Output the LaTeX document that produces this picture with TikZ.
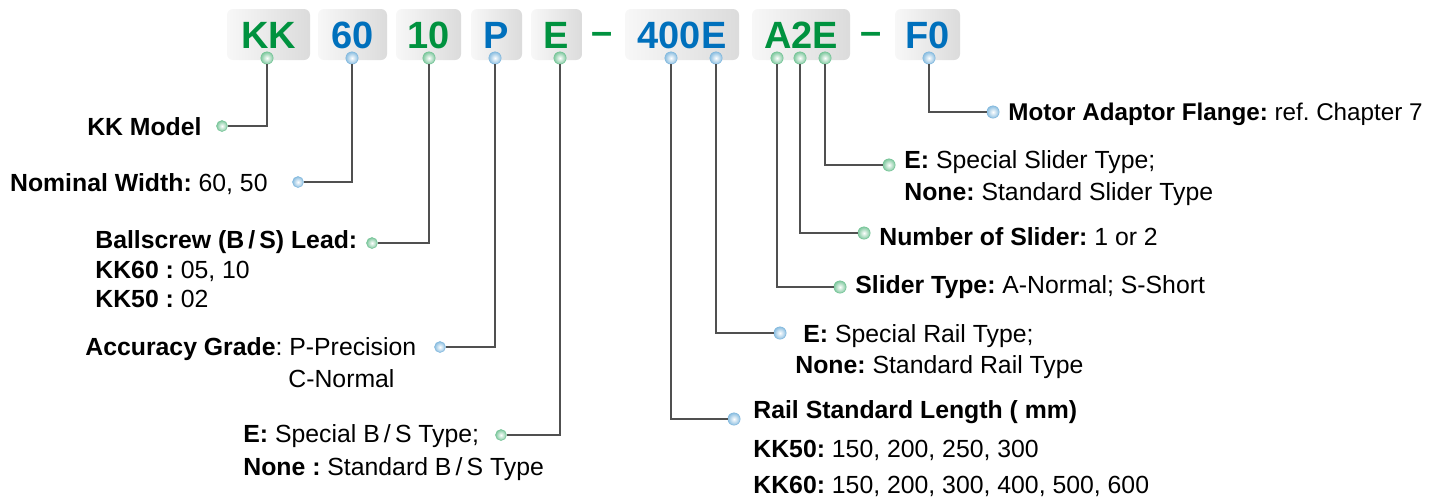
\documentclass[tikz,border=0pt]{standalone}
\usepackage{fontspec}
\setmainfont{Liberation Sans}
\usepackage{tikz}
\usepackage{xcolor}
\definecolor{kkgreen}{RGB}{0,146,63}
\definecolor{kkblue}{RGB}{0,112,188}
\definecolor{leadgray}{RGB}{80,80,80}
\frenchspacing

\begin{document}
\begin{tikzpicture}[x=0.5pt,y=-0.5pt,
  codebox/.style={rounded corners=3pt, left color=gray!6, right color=gray!28, minimum height=25.5pt, inner sep=0pt, text height=13.6pt, text depth=0pt, font=\fontsize{19}{22}\selectfont\bfseries},
  codedash/.style={inner sep=0pt, anchor=base, text=kkgreen, font=\fontsize{19}{22}\selectfont\bfseries},
  gdot/.style={circle, inner sep=0pt, minimum size=6.2pt, inner color=white, outer color=kkgreen!50, draw=kkgreen!55, line width=0.25pt},
  bdot/.style={circle, inner sep=0pt, minimum size=6.2pt, inner color=white, outer color=kkblue!45, draw=kkblue!50, line width=0.25pt},
  lbl/.style={inner sep=0pt, font=\fontsize{12.4}{15}\selectfont},
  lead/.style={draw=leadgray, line width=0.6pt}]
  \useasboundingbox (0,0) rectangle (1436,500);
  % code boxes
  \node[codebox, minimum width=41.5pt, text=kkgreen] (bKK) at (268.5,34.5) {KK};
  \node[codebox, minimum width=34.5pt, text=kkblue] (b60) at (352.5,34.5) {60};
  \node[codebox, minimum width=32.5pt, text=kkgreen] (b10) at (428.5,34.5) {10};
  \node[codebox, minimum width=25.5pt, text=kkblue] (bP) at (496.5,34.5) {P};
  \node[codebox, minimum width=25.5pt, text=kkgreen] (bE) at (556.5,34.5) {E};
  \node[codedash] (dash1) at (602.5,44) {--};
  \node[codebox, minimum width=57pt, text=kkblue] (b400E) at (682,34.5) {400E};
  \node[codebox, minimum width=49pt, text=kkgreen] (bA2E) at (801,34.5) {A2E};
  \node[codedash] (dash2) at (871,44) {--};
  \node[codebox, minimum width=32.5pt, text=kkblue] (bF0) at (927.5,34.5) {F0};
  % dots under the code letters
  \node[gdot] (dKK) at (267,58) {}; \node[bdot] (d60) at (352,58) {}; \node[gdot] (d10) at (429,58) {};
  \node[bdot] (dP) at (495,58) {}; \node[gdot] (dE) at (560,58) {};
  \node[bdot] (d400) at (671,58) {}; \node[bdot] (d400E) at (716,58) {};
  \node[gdot] (dA) at (777,58) {}; \node[gdot] (d2) at (800,58) {}; \node[gdot] (dA2E) at (825,58) {};
  \node[bdot] (dF0) at (929,58) {};
  % left side labels
  \node[gdot, minimum size=5.5pt] (eKK) at (222,126) {}; \node[lbl, anchor=base east] (tKK) at (202,135) {\textbf{KK Model}};
  \node[bdot, minimum size=5.5pt] (eNW) at (298,182) {}; \node[lbl, anchor=base east] (tNW) at (268,191) {\textbf{Nominal Width:} 60, 50};
  \node[gdot, minimum size=5.5pt] (eBS) at (372,243) {}; \node[lbl, anchor=base west] (tBS) at (95,248) {\textbf{Ballscrew (B\,/\,S) Lead:}};
  \node[lbl, anchor=base west] (tBS2) at (95,278) {\textbf{KK60 :} 05, 10}; \node[lbl, anchor=base west] (tBS3) at (95,307) {\textbf{KK50 :} 02};
  \node[bdot, minimum size=5.5pt] (eAG) at (440,347) {}; \node[lbl, anchor=base west] (tAG) at (85,355) {\textbf{Accuracy Grade}: P-Precision};
  \node[lbl, anchor=base west] (tAG2) at (288,387) {C-Normal};
  \node[gdot, minimum size=5.5pt] (eSB) at (501,435) {}; \node[lbl, anchor=base west] (tSB) at (243,442) {\textbf{E:} Special B\,/\,S Type;};
  \node[lbl, anchor=base west] (tSB2) at (243,475) {\textbf{None :} Standard B\,/\,S Type};
  % right side labels
  \node[bdot] (eRL) at (734,419) {}; \node[lbl, anchor=base west] (tRL) at (753,418) {\textbf{Rail Standard Length ( mm)}};
  \node[lbl, anchor=base west] (tRL2) at (753,457) {\textbf{KK50:} 150, 200, 250, 300};
  \node[lbl, anchor=base west] (tRL3) at (753,493) {\textbf{KK60:} 150, 200, 300, 400, 500, 600};
  \node[bdot] (eRT) at (780,333) {}; \node[lbl, anchor=base west] (tRT) at (803,342) {\textbf{E:} Special Rail Type;};
  \node[lbl, anchor=base west] (tRT2) at (795,373) {\textbf{None:} Standard Rail Type};
  \node[gdot] (eST) at (840,287) {}; \node[lbl, anchor=base west] (tST) at (855,293) {\textbf{Slider Type:} A-Normal; S-Short};
  \node[gdot] (eNS) at (864,233) {}; \node[lbl, anchor=base west] (tNS) at (879,245) {\textbf{Number of Slider:} 1 or 2};
  \node[gdot] (eSS) at (889,165) {}; \node[lbl, anchor=base west] (tSS) at (904,168) {\textbf{E:} Special Slider Type;};
  \node[lbl, anchor=base west] (tSS2) at (904,200) {\textbf{None:} Standard Slider Type};
  \node[bdot] (eMF) at (993,112) {}; \node[lbl, anchor=base west, font=\fontsize{12.1}{15}\selectfont] (tMF) at (1008,120) {\textbf{Motor Adaptor Flange:} ref. Chapter 7};
  % leader lines
  \draw[lead] (dKK) |- (eKK); \draw[lead] (d60) |- (eNW); \draw[lead] (d10) |- (eBS);
  \draw[lead] (dP) |- (eAG); \draw[lead] (dE) |- (eSB);
  \draw[lead] (d400) |- (eRL); \draw[lead] (d400E) |- (eRT);
  \draw[lead] (dA) |- (eST); \draw[lead] (d2) |- (eNS); \draw[lead] (dA2E) |- (eSS);
  \draw[lead] (dF0) |- (eMF);
\end{tikzpicture}
\end{document}
